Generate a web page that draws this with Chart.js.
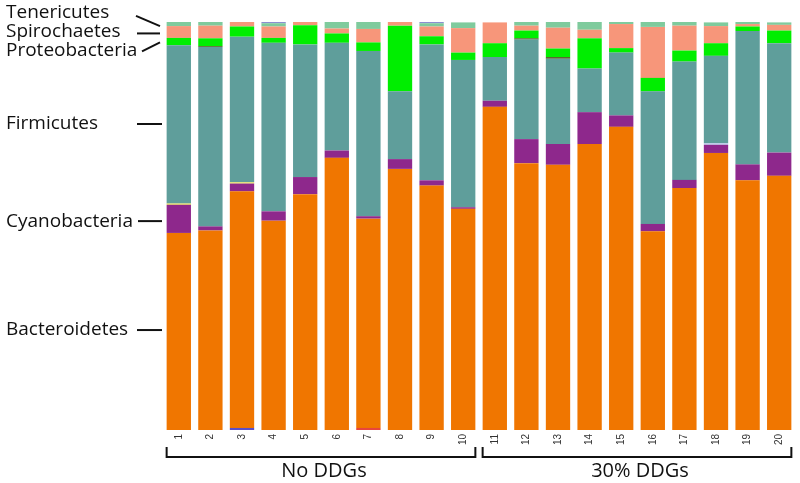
<!DOCTYPE html>
<html>
<head>
<meta charset="utf-8">
<script src="https://cdn.jsdelivr.net/npm/chart.js@4.4.0/dist/chart.umd.min.js"></script>
<style>
  body { margin: 0; background: #fff; }
  #wrap { width: 800px; height: 483px; position: relative; }
</style>
</head>
<body>
<div id="wrap"><canvas id="bars"></canvas></div>
<script>
// samples 1-20 (relative abundance, %)
var samples = ["1", "2", "3", "4", "5", "6", "7", "8", "9", "10",
               "11", "12", "13", "14", "15", "16", "17", "18", "19", "20"];

var bacteroidetes = [48.3, 48.9, 58.0, 51.3, 57.8, 66.7, 51.3, 64.0, 59.9, 54.2,
                     79.2, 65.4, 65.0, 70.1, 74.3, 48.7, 59.3, 67.9, 61.2, 62.3];
var cyanobacteria = [6.9, 1.0, 1.9, 2.3, 4.2, 1.8, 0.6, 2.4, 1.3, 0.4,
                     1.5, 5.9, 5.1, 7.8, 2.8, 1.8, 2.0, 2.0, 3.9, 5.7];
var firmicutes = [38.8, 44.0, 35.7, 41.3, 32.5, 26.4, 40.5, 16.6, 33.3, 36.1,
                  10.7, 24.4, 20.9, 10.7, 15.4, 32.5, 29.0, 21.4, 32.7, 26.8];
var proteobacteria = [1.8, 1.9, 2.5, 1.2, 4.7, 2.3, 2.1, 16.1, 2.0, 1.8,
                      3.4, 1.9, 2.1, 7.4, 1.1, 3.3, 2.7, 3.1, 1.1, 3.1];
var spirochaetes = [2.9, 3.1, 1.1, 2.8, 0.9, 1.2, 3.3, 0.9, 2.4, 6.0,
                    5.1, 1.2, 5.1, 2.1, 5.9, 12.5, 6.1, 4.2, 0.6, 1.4];
var tenericutes = [1.1, 1.0, 0, 0.8, 0, 1.7, 1.8, 0, 0.8, 1.4,
                   0, 0.9, 1.4, 2.0, 0.6, 1.2, 0.9, 0.9, 0.5, 0.6];
// minor taxa (thin lines)
var minorBottom = [0, 0, 0.5, 0, 0, 0, 0.5, 0, 0, 0, 0, 0, 0, 0, 0, 0, 0, 0, 0, 0];
var minorMid = [0.3, 0, 0.3, 0, 0, 0, 0, 0, 0, 0, 0, 0, 0, 0, 0, 0, 0, 0.4, 0, 0];
var minorDark = [0, 0.2, 0, 0, 0, 0, 0, 0, 0, 0, 0, 0.3, 0.4, 0, 0, 0, 0, 0, 0, 0];
var minorTop = [0, 0, 0, 0.3, 0, 0, 0, 0, 0.3, 0, 0, 0, 0, 0, 0, 0, 0, 0, 0, 0];

var phylumNames = ["Tenericutes", "Spirochaetes", "Proteobacteria", "Firmicutes", "Cyanobacteria", "Bacteroidetes"];
var groupNames = ["No DDGs", "30% DDGs"];

var minorBottomColors = samples.map(function (s, i) { return i === 6 ? "#e8453c" : "#5a4fc8"; });
var minorMidColors = samples.map(function (s, i) { return i === 17 ? "#b9c7e8" : "#e8e04a"; });

// 左侧标签和分组括号
var annotations = {
  id: "annotations",
  afterDraw: function (chart) {
    var ctx = chart.ctx;
    var y = chart.scales.y;
    var meta = chart.getDatasetMeta(1);
    ctx.save();
    ctx.fillStyle = "#111";
    ctx.strokeStyle = "#111";
    ctx.lineWidth = 2;
    ctx.font = "19px 'Open Sans'";
    ctx.textBaseline = "middle";
    ctx.textAlign = "left";

    // label text height (in %) and line end points (in %)
    var textAt = [102.2, 97.6, 93.0, 75.0, 51.2, 24.5];
    var lineFrom = [101.5, 97.2, 92.8, 75.0, 51.2, 24.5];
    var lineTo = [99.0, 97.2, 95.0, 75.0, 51.2, 24.5];
    var x0 = [136, 137, 142, 137, 138, 137];
    for (var i = 0; i < phylumNames.length; i++) {
      ctx.fillText(phylumNames[i], 6, y.getPixelForValue(textAt[i]));
      ctx.beginPath();
      ctx.moveTo(x0[i], y.getPixelForValue(lineFrom[i]));
      ctx.lineTo(i < 3 ? 160 : 162, y.getPixelForValue(lineTo[i]));
      ctx.stroke();
    }

    // brackets
    var bottom = chart.chartArea.bottom;
    ctx.font = "20px 'Open Sans'";
    ctx.textAlign = "center";
    for (var g = 0; g < 2; g++) {
      var first = meta.data[g * 10];
      var last = meta.data[g * 10 + 9];
      var left = first.x - first.width / 2;
      var right = last.x + last.width / 2;
      ctx.beginPath();
      ctx.moveTo(left, bottom + 17);
      ctx.lineTo(left, bottom + 27);
      ctx.lineTo(right, bottom + 27);
      ctx.lineTo(right, bottom + 17);
      ctx.stroke();
      ctx.fillText(groupNames[g], (left + right) / 2 + 3, bottom + 41);
    }
    ctx.restore();
  }
};

var ctx = document.getElementById("bars").getContext("2d");
var chart = new Chart(ctx, {
  type: "bar",
  data: {
    labels: samples,
    datasets: [
      { label: "minor", data: minorBottom, backgroundColor: minorBottomColors },
      { label: "Bacteroidetes", data: bacteroidetes, backgroundColor: "#f07600" },
      { label: "Cyanobacteria", data: cyanobacteria, backgroundColor: "#8e288c" },
      { label: "minor2", data: minorMid, backgroundColor: minorMidColors },
      { label: "Firmicutes", data: firmicutes, backgroundColor: "#5f9e9b" },
      { label: "minor3", data: minorDark, backgroundColor: "#4b5a1e" },
      { label: "Proteobacteria", data: proteobacteria, backgroundColor: "#00ee00" },
      { label: "Spirochaetes", data: spirochaetes, backgroundColor: "#f7967a" },
      { label: "Tenericutes", data: tenericutes, backgroundColor: "#7fcb9d" },
      { label: "minor4", data: minorTop, backgroundColor: "#8c8fd0" }
    ]
  },
  options: {
    responsive: true,
    maintainAspectRatio: false,
    animation: false,
    layout: { padding: { left: 163, right: 5, top: 22, bottom: 0 } },
    datasets: { bar: { categoryPercentage: 1, barPercentage: 0.77 } },
    plugins: { legend: { display: false }, tooltip: { enabled: false } },
    scales: {
      x: {
        stacked: true,
        grid: { display: false, drawTicks: false },
        border: { display: false },
        ticks: { color: "#333", font: { size: 10 }, minRotation: 90, maxRotation: 90, autoSkip: false, padding: 4 },
        afterFit: function (scale) { scale.height = 53; }
      },
      y: { stacked: true, min: 0, max: 100, display: false }
    }
  },
  plugins: [annotations]
});
</script>
</body>
</html>
